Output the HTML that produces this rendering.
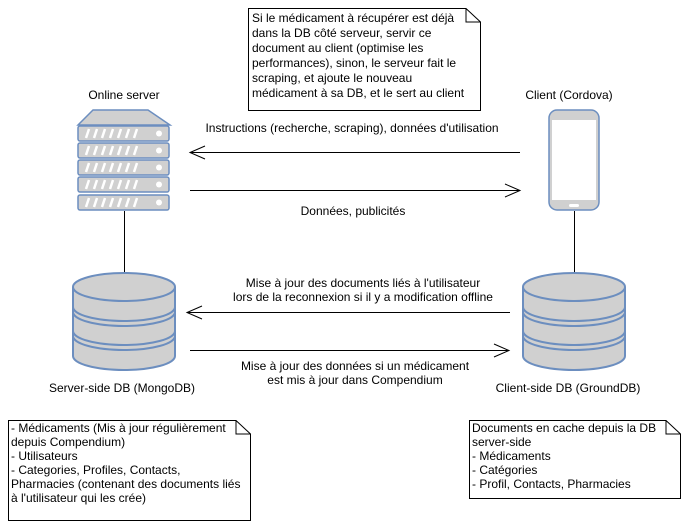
<!DOCTYPE html>
<html><head><meta charset="utf-8"><style>
body{margin:0;background:#fff}
svg{display:block}
text{font-family:"Liberation Sans",Arial,sans-serif;font-size:12px;fill:#000}
</style></head><body>
<svg width="690" height="531" viewBox="0 0 690 531">
<defs>
<g id="db">
<path d="M0,14 A51,14 0 0 1 102,14 L102,83 A51,14 0 0 1 0,83 Z" fill="#d0d0d0" stroke="#6c8ebf" stroke-width="2"/>
<path d="M0,14 A51,14 0 0 0 102,14" fill="none" stroke="#6c8ebf" stroke-width="2"/>
<path d="M0,34 A51,14 0 0 0 102,34 M0,39 A51,14 0 0 0 102,39" fill="none" stroke="#6c8ebf" stroke-width="2"/>
<path d="M0,58 A51,14 0 0 0 102,58 M0,63 A51,14 0 0 0 102,63" fill="none" stroke="#6c8ebf" stroke-width="2"/>
</g>
<g id="unit">
<rect x="0" y="0" width="91" height="15" rx="2" fill="#d0d0d0" stroke="#6c8ebf" stroke-width="1.5"/>
<path d="M8,12 l3,-9 M16,12 l3,-9 M24,12 l3,-9 M32,12 l3,-9 M40,12 l3,-9 M48,12 l3,-9 M56,12 l3,-9" stroke="#fff" stroke-width="2.5"/>
<circle cx="81" cy="7.5" r="3" fill="#fff"/>
</g>
</defs>

<!-- top note -->
<path d="M248.5,8.5 H466 L480.5,22 V110.5 H248.5 Z" fill="#fff" stroke="#000"/>
<path d="M466,8.5 V22 H480.5" fill="none" stroke="#000"/>
<text x="252" y="22">Si le médicament à récupérer est déjà</text>
<text x="252" y="37">dans la DB côté serveur, servir ce</text>
<text x="252" y="52">document au client (optimise les</text>
<text x="252" y="67">performances), sinon, le serveur fait le</text>
<text x="252" y="82">scraping, et ajoute le nouveau</text>
<text x="252" y="97">médicament à sa DB, et le sert au client</text>

<!-- server -->
<text x="124" y="99" text-anchor="middle">Online server</text>
<path d="M93,110 H148 L170,125 H78 Z" fill="#d0d0d0" stroke="#6c8ebf" stroke-width="1.5"/>
<use href="#unit" x="78" y="126"/>
<use href="#unit" x="78" y="143"/>
<use href="#unit" x="78" y="160"/>
<use href="#unit" x="78" y="177"/>
<use href="#unit" x="78" y="195"/>
<line x1="124.5" y1="211" x2="124.5" y2="272" stroke="#000"/>

<!-- phone -->
<text x="569" y="99" text-anchor="middle">Client (Cordova)</text>
<rect x="549" y="110" width="50" height="100" rx="8" fill="#d0d0d0" stroke="#6c8ebf" stroke-width="1.5"/>
<rect x="552" y="120" width="44" height="80" fill="#fff"/>
<rect x="569" y="204" width="10" height="3" rx="1.5" fill="#fff"/>
<line x1="574.5" y1="211" x2="574.5" y2="274" stroke="#000"/>

<!-- arrows -->
<line x1="520" y1="152.5" x2="190" y2="152.5" stroke="#000"/>
<path d="M205,146 L190,152.5 L205,159" fill="none" stroke="#000"/>
<text x="352" y="132" text-anchor="middle">Instructions (recherche, scraping), données d'utilisation</text>
<line x1="190" y1="190.5" x2="520" y2="190.5" stroke="#000"/>
<path d="M505,184 L520,190.5 L505,197" fill="none" stroke="#000"/>
<text x="353" y="215" text-anchor="middle">Données, publicités</text>

<line x1="510" y1="312.5" x2="187" y2="312.5" stroke="#000"/>
<path d="M202,306 L187,312.5 L202,319" fill="none" stroke="#000"/>
<text x="363" y="287" text-anchor="middle">Mise à jour des documents liés à l'utilisateur</text>
<text x="363" y="301" text-anchor="middle">lors de la reconnexion si il y a modification offline</text>
<line x1="190" y1="350.5" x2="509" y2="350.5" stroke="#000"/>
<path d="M494,344 L509,350.5 L494,357" fill="none" stroke="#000"/>
<text x="355" y="370" text-anchor="middle">Mise à jour des données si un médicament</text>
<text x="355" y="384" text-anchor="middle">est mis à jour dans Compendium</text>

<!-- DBs -->
<use href="#db" x="73" y="273"/>
<use href="#db" x="523" y="273"/>
<text x="122" y="392" text-anchor="middle">Server-side DB (MongoDB)</text>
<text x="568" y="392" text-anchor="middle">Client-side DB (GroundDB)</text>

<!-- bottom left note -->
<path d="M8.5,420.5 H236 L250.5,434 V520.5 H8.5 Z" fill="#fff" stroke="#000"/>
<path d="M236,420.5 V434 H250.5" fill="none" stroke="#000"/>
<text x="11" y="432">- Médicaments (Mis à jour régulièrement</text>
<text x="11" y="446">depuis Compendium)</text>
<text x="11" y="460">- Utilisateurs</text>
<text x="11" y="474">- Categories, Profiles, Contacts,</text>
<text x="11" y="488">Pharmacies (contenant des documents liés</text>
<text x="11" y="502">à l'utilisateur qui les crée)</text>

<!-- bottom right note -->
<path d="M469.5,420.5 H666 L680.5,434 V498.5 H469.5 Z" fill="#fff" stroke="#000"/>
<path d="M666,420.5 V434 H680.5" fill="none" stroke="#000"/>
<text x="472" y="432">Documents en cache depuis la DB</text>
<text x="472" y="446">server-side</text>
<text x="472" y="460">- Médicaments</text>
<text x="472" y="474">- Catégories</text>
<text x="472" y="488">- Profil, Contacts, Pharmacies</text>
</svg>
</body></html>
